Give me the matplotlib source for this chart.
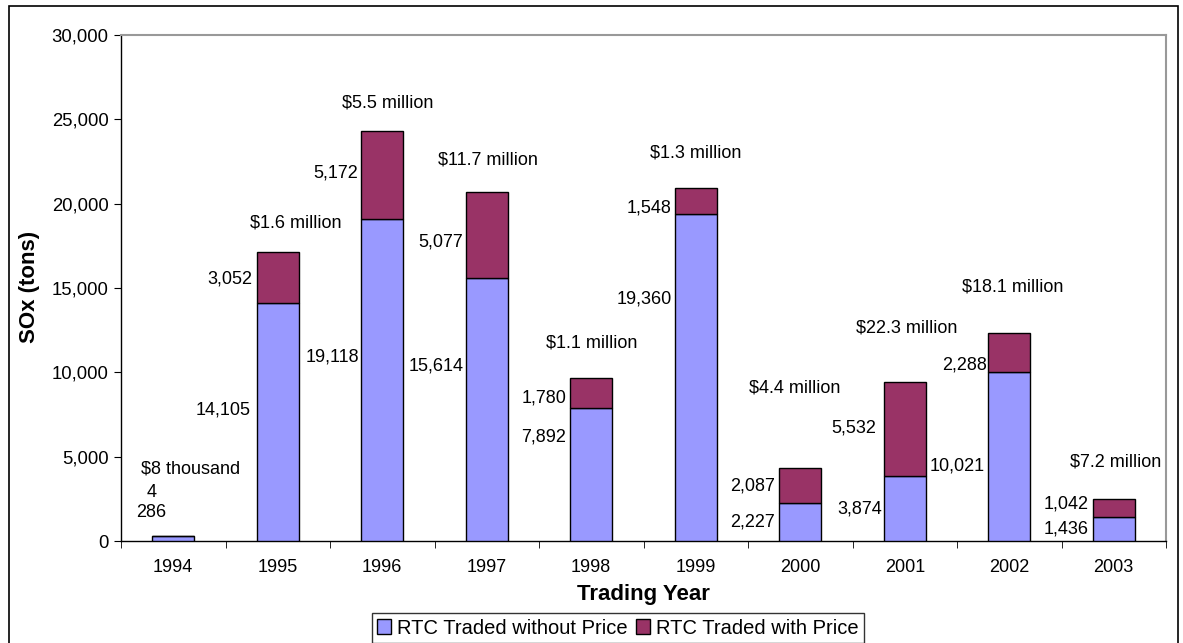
import matplotlib.pyplot as plt
import numpy as np
from matplotlib.patches import Rectangle

plt.rcParams['font.family'] = ['Liberation Sans', 'DejaVu Sans']

years = ['1994', '1995', '1996', '1997', '1998', '1999', '2000', '2001', '2002', '2003']
without_price = [286, 14105, 19118, 15614, 7892, 19360, 2227, 3874, 10021, 1436]
with_price = [4, 3052, 5172, 5077, 1780, 1548, 2087, 5532, 2288, 1042]
value_labels = ['$8 thousand', '$1.6 million', '$5.5 million', '$11.7 million', '$1.1 million',
                '$1.3 million', '$4.4 million', '$22.3 million', '$18.1 million', '$7.2 million']

# label anchors (category offset, y) -- labels sit off the bars as in the original
wo_lbl_pos = [(-0.21, 1700), (0.74, 7770), (1.78, 10900), (2.78, 10380), (3.76, 6170),
              (4.77, 14350), (5.76, 1130), (6.78, 1900), (7.77, 4450), (8.76, 710)]
wp_lbl_pos = [(-0.21, 2900), (0.76, 15530), (1.77, 21820), (2.77, 17730), (3.76, 8480),
              (4.77, 19740), (5.76, 3260), (6.73, 6700), (7.79, 10430), (8.76, 2190)]
val_lbl_pos = [(0.17, 4270), (1.17, 18850), (2.05, 25970), (3.01, 22590), (4.0, 11740),
               (5.0, 23000), (5.95, 9070), (7.02, 12630), (8.03, 15060), (9.02, 4680)]

blue = '#9999FF'
maroon = '#993366'

fig = plt.figure(figsize=(11.83, 6.43), dpi=100)
ax = fig.add_axes([121 / 1183, 1 - 541 / 643, 1045 / 1183, 506 / 643])

x = np.arange(len(years))
ax.bar(x, without_price, width=0.4, color=blue, edgecolor='black', linewidth=1,
       label='RTC Traded without Price', zorder=3)
ax.bar(x, with_price, width=0.4, bottom=without_price, color=maroon, edgecolor='black',
       linewidth=1, label='RTC Traded with Price', zorder=3)

fs = 13
for i in range(len(years)):
    px, py = wo_lbl_pos[i]
    ax.text(px, py, f'{without_price[i]:,}', ha='right' if i > 0 else 'center', va='center', fontsize=fs)
    px, py = wp_lbl_pos[i]
    ax.text(px, py, f'{with_price[i]:,}', ha='right' if i > 0 else 'center', va='center', fontsize=fs)
    px, py = val_lbl_pos[i]
    ax.text(px, py, value_labels[i], ha='center', va='center', fontsize=fs)

ax.set_xlim(-0.5, len(years) - 0.5)
ax.set_ylim(0, 30000)
ax.set_yticks(np.arange(0, 30001, 5000))
ax.set_yticklabels([f'{v:,}' for v in range(0, 30001, 5000)], fontsize=13.3)
ax.set_xticks(x)
ax.set_xticklabels(years, fontsize=fs)
ax.tick_params(axis='x', length=0, pad=13)
ax.set_xticks(np.arange(-0.5, len(years)), minor=True)
ax.tick_params(axis='x', which='minor', length=5, direction='out')
ax.tick_params(axis='y', length=5, direction='out', pad=4)

for s in ['top', 'right']:
    ax.spines[s].set_color('#999999')
    ax.spines[s].set_linewidth(1.5)
for s in ['left', 'bottom']:
    ax.spines[s].set_color('black')
    ax.spines[s].set_linewidth(1)

ax.set_xlabel('Trading Year', fontsize=16, fontweight='bold', labelpad=6)
ax.set_ylabel('SOx (tons)', fontsize=16, fontweight='bold')
ax.yaxis.set_label_coords((40 - 121) / 1045, (541 - 287) / 506)

leg = fig.legend(loc='center', bbox_to_anchor=(618 / 1183, 1 - 628 / 643), ncol=2,
                 fontsize=14.5, frameon=True, fancybox=False, edgecolor='black',
                 handlelength=0.7, handleheight=0.7, handletextpad=0.3, columnspacing=0.4,
                 borderpad=0.25, borderaxespad=0)
leg.get_frame().set_linewidth(1)

fig.patches.append(Rectangle((9 / 1183, -0.05), (1178 - 9) / 1183, 1.05 - 6.5 / 643,
                             transform=fig.transFigure, fill=False, edgecolor='black',
                             linewidth=1.2))

fig.savefig('out.png', dpi=100)
